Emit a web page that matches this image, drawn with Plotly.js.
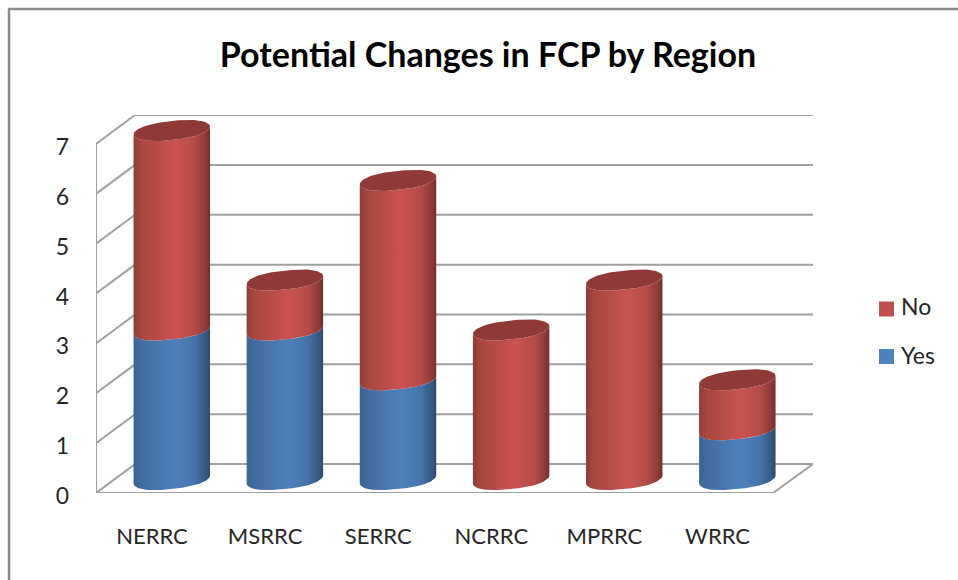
<!DOCTYPE html>
<html>
<head>
<meta charset="utf-8">
<script src="https://cdn.plot.ly/plotly-3.0.1.min.js"></script>
<style>html,body{margin:0;padding:0;background:#fff;overflow:hidden}</style>
</head>
<body>
<div id="chart" style="width:958px;height:580px"></div>
<script>
const categories = ['NERRC', 'MSRRC', 'SERRC', 'NCRRC', 'MPRRC', 'WRRC'];
const yesValues = [3, 3, 2, 0, 0, 1];
const noValues = [4, 1, 4, 3, 4, 1];
const yTicks = [0, 1, 2, 3, 4, 5, 6, 7];
const chartTitle = 'Potential Changes in FCP by Region';

const FONT = 'Lato, "Open Sans", sans-serif';
const W = 958, H = 580;
const M = {l: 96, r: 145, t: 115, b: 87};
const plotW = W - M.l - M.r, plotH = H - M.t - M.b;
const px = x => (x - M.l) / plotW;
const py = y => 1 - (y - M.t) / plotH;

// 3D look, in axis units
const depthX = 0.345, depthY = 0.58;
const barShift = 0.175, barHalf = 0.338, barLift = 0.27, tilt = 0.08, sag = 0.19, blunt = 0.8;
const steps = 48;

const redScale = [[0,'#8f3c39'],[0.1,'#a8463f'],[0.55,'#ca5350'],[0.8,'#b54b48'],[0.93,'#8f3c39'],[1,'#732e2c']];
const blueScale = [[0,'#3a6392'],[0.1,'#426ca0'],[0.55,'#4f81bd'],[0.8,'#4673a9'],[0.93,'#385c84'],[1,'#2e4a6b']];

function rimPoint(i, v, t) {
  const c = Math.cos(t), bc = Math.sign(c) * Math.pow(Math.abs(c), blunt);
  return [i + barShift + barHalf * bc, v + barLift + tilt * bc - sag * Math.sin(t)];
}
function segment(i, v0, v1, name, scale) {
  const xs = [], ys = [];
  for (let k = 0; k <= steps; k++) {           // front arc of lower rim, left to right
    const p = rimPoint(i, v0, Math.PI - Math.PI * k / steps);
    xs.push(p[0]); ys.push(p[1]);
  }
  for (let k = 0; k <= steps; k++) {           // front arc of upper rim, right to left
    const p = rimPoint(i, v1, Math.PI * k / steps);
    xs.push(p[0]); ys.push(p[1]);
  }
  xs.push(xs[0]); ys.push(ys[0]);
  return {x: xs, y: ys, type: 'scatter', mode: 'lines', name: name, line: {width: 0}, fill: 'toself',
    fillgradient: {type: 'horizontal', colorscale: scale}, showlegend: false, hoverinfo: 'skip'};
}
function cap(i, v) {
  const xs = [], ys = [];
  for (let k = 0; k <= steps * 2; k++) {
    const p = rimPoint(i, v, Math.PI * k / steps);
    xs.push(p[0]); ys.push(p[1]);
  }
  return {x: xs, y: ys, type: 'scatter', mode: 'lines', line: {width: 0}, fill: 'toself',
    fillcolor: '#8f3a38', showlegend: false, hoverinfo: 'skip'};
}

const traces = [];
categories.forEach((c, i) => {
  if (yesValues[i] > 0) traces.push(segment(i, 0, yesValues[i], 'Yes', blueScale));
});
categories.forEach((c, i) => {
  const total = yesValues[i] + noValues[i];
  traces.push(segment(i, yesValues[i], total, 'No', redScale));
  traces.push(cap(i, total));
});

const gridColor = '#a0a0a0';
const xFrontL = -0.495, xFrontR = 5.49, xBackL = xFrontL + depthX, xBackR = xFrontR + depthX + 0.009;
const shapes = [];
const seg = (x0, y0, x1, y1) => shapes.push({type: 'line', xref: 'x', yref: 'y', x0, y0, x1, y1,
  line: {color: gridColor, width: 2}, layer: 'below'});
yTicks.forEach(v => {
  seg(xBackL, v + depthY, xBackR, v + depthY);
  seg(xFrontL, v, xBackL, v + depthY);
});
seg(xFrontL, 0, xFrontL, yTicks[yTicks.length - 1]);
seg(xFrontL, 0, xFrontR, 0);
seg(xFrontR, 0, xBackR, depthY);

// outer frame
const frame = {color: '#8c8c8c', width: 2.5};
shapes.push({type: 'line', xref: 'paper', yref: 'paper', x0: px(9), y0: py(9), x1: px(9), y1: py(581), line: frame});
shapes.push({type: 'line', xref: 'paper', yref: 'paper', x0: px(8), y0: py(9), x1: px(959), y1: py(9), line: frame});

// legend
const legendItems = [['No', '#c0504d', 301.5, 305.5], ['Yes', '#4f81bd', 349, 354.5]];
const annotations = [];
legendItems.forEach(([name, color, top, textY]) => {
  shapes.push({type: 'rect', xref: 'paper', yref: 'paper', x0: px(879), x1: px(894), y0: py(top), y1: py(top + 15),
    fillcolor: color, line: {width: 0}});
  annotations.push({xref: 'paper', yref: 'paper', x: px(899), y: py(textY), xanchor: 'left', yanchor: 'middle',
    text: name, showarrow: false, font: {family: FONT, size: 23, color: '#262626'}});
});

const layout = {
  width: W, height: H,
  margin: M,
  paper_bgcolor: '#fff', plot_bgcolor: '#fff',
  showlegend: false,
  title: {text: '<b>' + chartTitle + '</b>', x: 488 / W, xanchor: 'center', y: 1 - 55 / H, yanchor: 'middle',
    font: {family: FONT, size: 34, color: '#000'}},
  xaxis: {range: [xFrontL, xBackR], tickmode: 'array', tickvals: categories.map((c, i) => i), ticktext: categories,
    showgrid: false, zeroline: false, showline: false, ticks: '', ticklabelstandoff: 28, fixedrange: true,
    tickfont: {family: FONT, size: 22, color: '#262626'}},
  yaxis: {range: [0, plotH / 49.86], tickmode: 'array', tickvals: yTicks, ticktext: yTicks.map(String),
    showgrid: false, zeroline: false, showline: false, ticks: '', ticklabelstandoff: 26, ticklabelshift: 3, fixedrange: true,
    tickfont: {family: FONT, size: 23, color: '#262626'}},
  shapes: shapes,
  annotations: annotations
};
Plotly.newPlot('chart', traces, layout, {displayModeBar: false, staticPlot: true});
</script>
</body>
</html>
